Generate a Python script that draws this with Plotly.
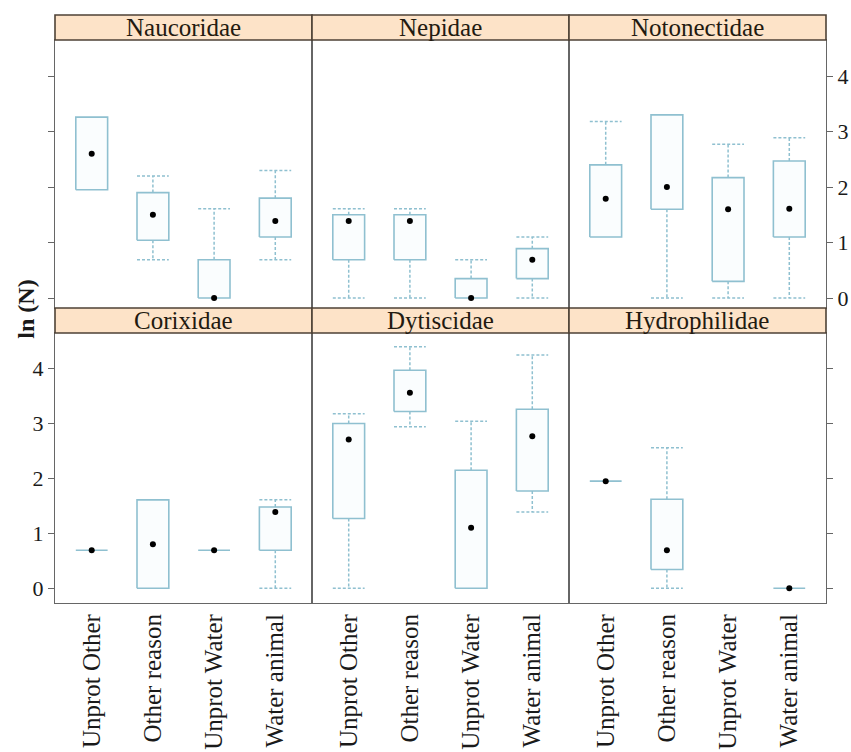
import plotly.graph_objects as go

# Panels (families) in display order: top row then bottom row
families = ["Naucoridae", "Nepidae", "Notonectidae",
            "Corixidae", "Dytiscidae", "Hydrophilidae"]
reasons = ["Unprot Other", "Other reason", "Unprot Water", "Water animal"]

# Box statistics of ln(N), 4 reasons per family, families in the order above
whisker_low = [1.95, 0.69, 0.00, 0.69,
               0.00, 0.00, 0.00, 0.00,
               1.10, 0.00, 0.00, 0.00,
               0.69, 0.00, 0.69, 0.00,
               0.00, 2.94, 0.00, 1.39,
               1.95, 0.00, None, 0.00]
box_low = [1.95, 1.04, 0.00, 1.10,
           0.69, 0.69, 0.00, 0.35,
           1.10, 1.60, 0.30, 1.10,
           0.69, 0.00, 0.69, 0.69,
           1.27, 3.22, 0.00, 1.77,
           1.95, 0.34, None, 0.00]
medians = [2.60, 1.50, 0.00, 1.39,
           1.39, 1.39, 0.00, 0.69,
           1.79, 2.00, 1.60, 1.61,
           0.69, 0.80, 0.69, 1.39,
           2.71, 3.56, 1.10, 2.77,
           1.95, 0.69, None, 0.00]
box_high = [3.26, 1.90, 0.69, 1.80,
            1.50, 1.50, 0.35, 0.89,
            2.40, 3.30, 2.17, 2.47,
            0.69, 1.61, 0.69, 1.48,
            3.00, 3.97, 2.15, 3.26,
            1.95, 1.62, None, 0.00]
whisker_high = [3.26, 2.20, 1.61, 2.30,
                1.61, 1.61, 0.69, 1.10,
                3.18, 3.30, 2.77, 2.89,
                0.69, 1.61, 0.69, 1.61,
                3.18, 4.40, 3.04, 4.25,
                1.95, 2.56, None, 0.00]

y_ticks = [0, 1, 2, 3, 4]

BOX_COLOR = "#8fc0d0"
FRAME_COLOR = "#666666"
STRIP_FILL = "#fde3c8"
STRIP_LINE = "#4e4236"
FONT = "Liberation Serif, Times New Roman, serif"
HALF = 0.26  # half box width in category units

# Row layout in paper coordinates: panel domain, strip domain, y range
rows = [
    {"panel": [0.5017, 0.9575], "strip": [0.9575, 1.0], "yrange": [-0.18, 4.65]},
    {"panel": [0.0, 0.4592], "strip": [0.4592, 0.5017], "yrange": [-0.27, 4.65]},
]

fig = go.Figure()
shapes = []
annotations = []

for k, fam in enumerate(families):
    r, c = divmod(k, 3)
    ax = "" if k == 0 else str(k + 1)
    xref, yref = "x" + ax, "y" + ax

    for j in range(4):
        i = k * 4 + j
        if medians[i] is None:
            continue
        xc = j + 1
        x0, x1 = xc - HALF, xc + HALF
        # dashed whiskers with caps
        wx, wy = [], []
        if whisker_high[i] > box_high[i]:
            wx += [xc, xc, None, x0, x1, None]
            wy += [box_high[i], whisker_high[i], None,
                   whisker_high[i], whisker_high[i], None]
        if whisker_low[i] < box_low[i]:
            wx += [xc, xc, None, x0, x1, None]
            wy += [box_low[i], whisker_low[i], None,
                   whisker_low[i], whisker_low[i], None]
        if wx:
            fig.add_trace(go.Scatter(
                x=wx, y=wy, mode="lines", xaxis=xref, yaxis=yref,
                line=dict(color=BOX_COLOR, width=1.5, dash="3px,2px"),
                hoverinfo="skip", showlegend=False))
        # box rectangle
        fig.add_trace(go.Scatter(
            x=[x0, x1, x1, x0, x0],
            y=[box_low[i], box_low[i], box_high[i], box_high[i], box_low[i]],
            mode="lines", xaxis=xref, yaxis=yref,
            line=dict(color=BOX_COLOR, width=1.6),
            fill="toself", fillcolor="rgba(240,248,251,0.35)",
            hoverinfo="skip", showlegend=False))
        # median dot
        fig.add_trace(go.Scatter(
            x=[xc], y=[medians[i]], mode="markers", xaxis=xref, yaxis=yref,
            marker=dict(color="black", size=6),
            name=f"{fam} – {reasons[j]}", showlegend=False))

    row = rows[r]
    xdom = [c / 3, (c + 1) / 3]
    xaxis = dict(
        domain=xdom, anchor=yref, range=[0.4, 4.6], automargin=False,
        showgrid=False, zeroline=False,
        showline=True, mirror=True, linecolor=FRAME_COLOR, linewidth=1.2,
        tickmode="array", tickvals=[1, 2, 3, 4], ticktext=reasons,
        ticks="", showticklabels=(r == 1), tickangle=-90,
        tickfont=dict(family=FONT, size=25, color="#1a1a1a"),
    )
    yaxis = dict(
        domain=row["panel"], anchor=xref, range=row["yrange"], automargin=False,
        showgrid=False, zeroline=False,
        showline=True, mirror=True, linecolor=FRAME_COLOR, linewidth=1.2,
        tickmode="array", tickvals=y_ticks,
        tickfont=dict(family=FONT, size=22, color="#1a1a1a"),
    )
    if c == 0:
        yaxis.update(side="left", ticks="outside", ticklen=6,
                     tickcolor=FRAME_COLOR, showticklabels=(r == 1))
    elif c == 2:
        yaxis.update(side="right", ticks="outside", ticklen=6,
                     tickcolor=FRAME_COLOR, showticklabels=(r == 0))
    else:
        yaxis.update(ticks="", showticklabels=False)
    fig.update_layout({"xaxis" + ax: xaxis, "yaxis" + ax: yaxis})

    # strip header
    sd = row["strip"]
    shapes.append(dict(type="rect", xref="paper", yref="paper",
                       x0=xdom[0], x1=xdom[1], y0=sd[0], y1=sd[1],
                       fillcolor=STRIP_FILL,
                       line=dict(color=STRIP_LINE, width=1.6), layer="above"))
    annotations.append(dict(text=fam, xref="paper", yref="paper",
                            x=(xdom[0] + xdom[1]) / 2, y=(sd[0] + sd[1]) / 2,
                            xanchor="center", yanchor="middle", showarrow=False,
                            font=dict(family=FONT, size=25, color="#231a10")))

annotations.append(dict(text="<b>ln (N)</b>", xref="paper", yref="paper",
                        x=-0.038, y=0.5, xanchor="center", yanchor="middle",
                        textangle=-90, showarrow=False,
                        font=dict(family=FONT, size=24, color="#1a1a1a")))

fig.update_layout(
    width=851, height=752,
    margin=dict(l=55, r=25, t=15, b=149),
    paper_bgcolor="white", plot_bgcolor="white",
    font=dict(family=FONT),
    shapes=shapes, annotations=annotations,
    showlegend=False,
)

fig.write_html("out.html")
